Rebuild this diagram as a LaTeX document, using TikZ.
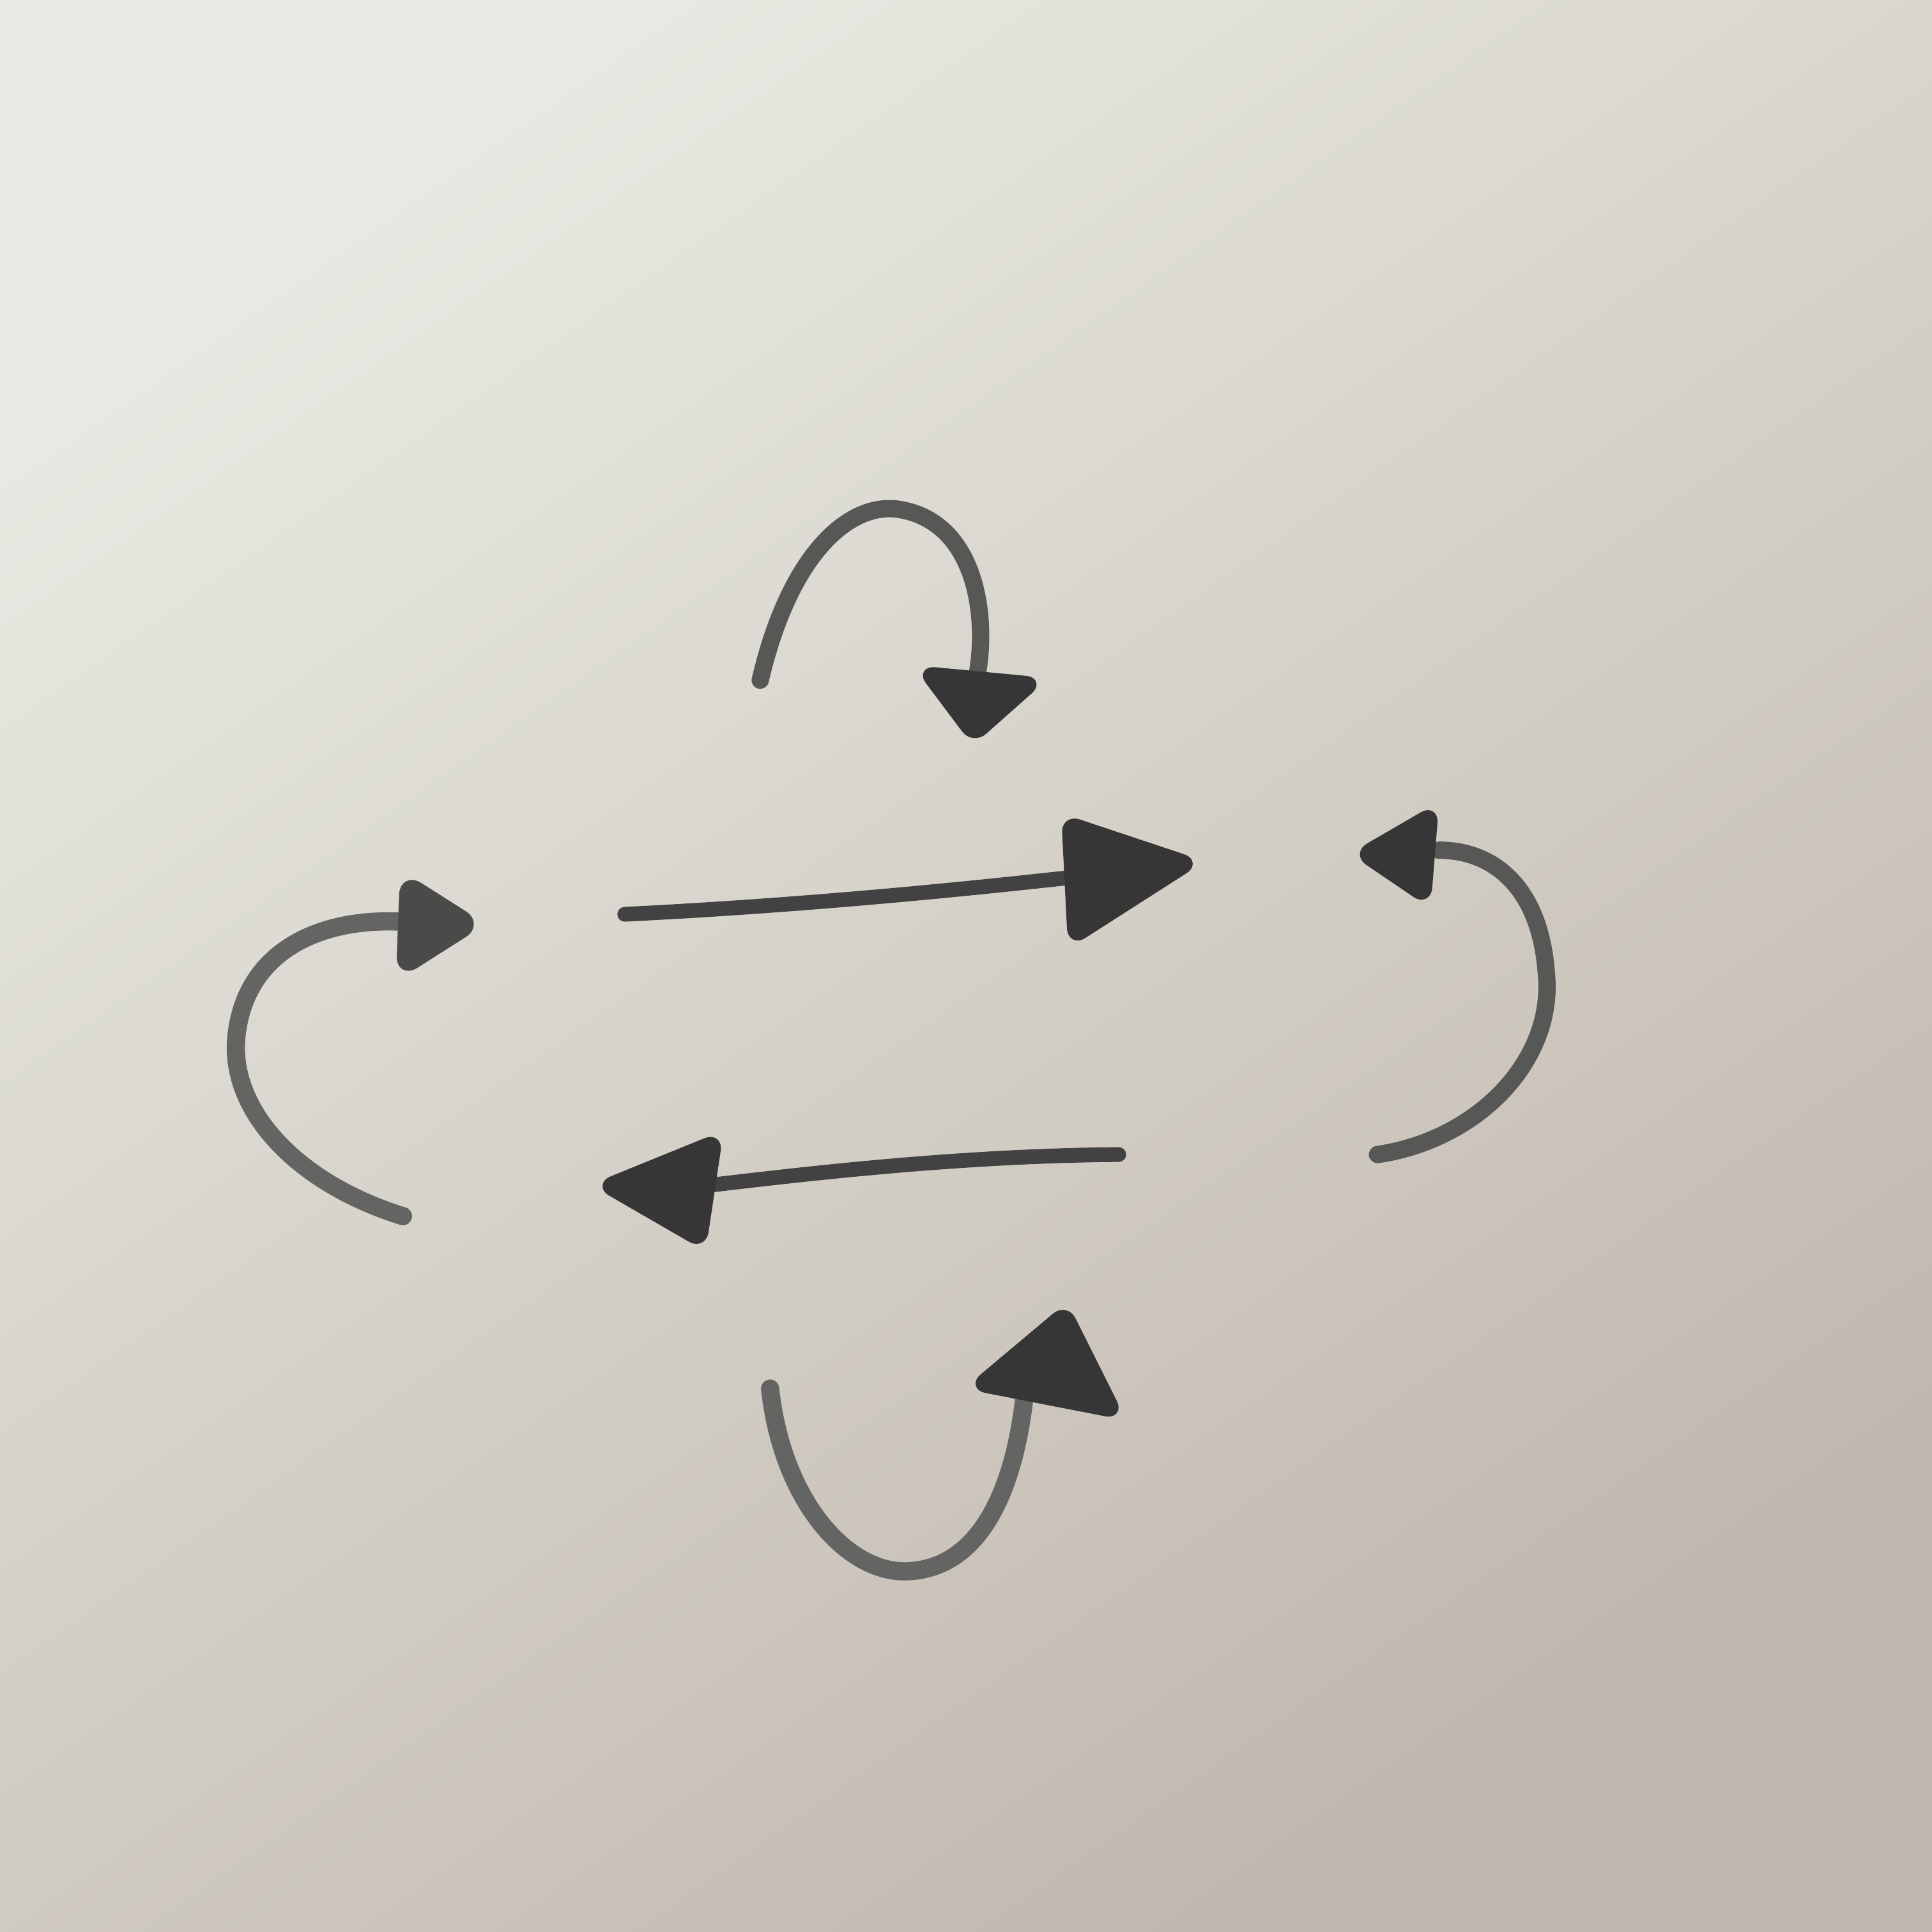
\documentclass[tikz,border=0pt]{standalone}
\usetikzlibrary{calc}
\definecolor{paperA}{HTML}{E8E9E2}
\definecolor{paperM}{HTML}{DEDBD4}
\definecolor{paperB}{HTML}{C0B7AE}
\definecolor{pencilL}{HTML}{646462}
\definecolor{pencilM}{HTML}{575756}
\definecolor{pencilD}{HTML}{424242}
\definecolor{headC}{HTML}{363636}
\definecolor{headL}{HTML}{4A4A49}
\tikzset{
  curvestroke/.style={draw=pencilM, line width=4pt, line cap=round, line join=round},
  lightstroke/.style={draw=pencilL, line width=4.2pt, line cap=round, line join=round},
  straightstroke/.style={draw=pencilD, line width=3.4pt, line cap=round},
  tiphead/.style={fill=headC, draw=headC, line width=2pt, line join=round, rounded corners=3pt},
  lighthead/.style={fill=headL, draw=headL, line width=2pt, line join=round, rounded corners=4pt},
}
\begin{document}
\begin{tikzpicture}[x=0.01cm,y=-0.01cm]
\useasboundingbox (0,0) rectangle (1568,1568);
\shade[shading=axis, top color=paperA, middle color=paperM, bottom color=paperB, shading angle=35] (0,0) rectangle (1568,1568);
% top curved arrow
\coordinate (t0) at (617,552);
\coordinate (t1) at (733,414);
\coordinate (t2) at (793,548);
\path[curvestroke] (t0) .. controls (642,445) and (693,405) .. (t1) .. controls (792,426) and (802,500) .. (t2);
\path[tiphead] (748,544) -- (843,553) -- (790,600) -- cycle;
% straight top arrow
\coordinate (s0) at (507,742);
\coordinate (s1) at (870,712);
\path[straightstroke] (s0) .. controls (650,735) and (780,722) .. (s1);
\path[tiphead] (865,665) -- (970,700) -- (870,764) -- cycle;
% right curved arrow
\coordinate (r0) at (1118,937);
\coordinate (r1) at (1255,790);
\coordinate (r2) at (1168,690);
\path[curvestroke] (r0) .. controls (1200,925) and (1262,860) .. (r1) .. controls (1250,720) and (1212,690) .. (r2);
\path[tiphead] (1164,657) -- (1102,693) -- (1158,731) -- cycle;
% straight bottom arrow
\coordinate (b0) at (908,937);
\coordinate (b1) at (575,962);
\path[straightstroke] (b0) .. controls (780,938) and (660,952) .. (b1);
\path[tiphead] (583,923) -- (487,962) -- (570,1010) -- cycle;
% left curved arrow
\coordinate (l0) at (327,987);
\coordinate (l1) at (192,840);
\coordinate (l2) at (325,748);
\path[lightstroke] (l0) .. controls (240,960) and (185,900) .. (l1) .. controls (200,770) and (262,745) .. (l2);
\path[lighthead] (328,712) -- (388,750) -- (325,790) -- cycle;
% bottom curved arrow
\coordinate (u0) at (625,1127);
\coordinate (u1) at (740,1275);
\coordinate (u2) at (832,1128);
\path[lightstroke] (u0) .. controls (635,1220) and (690,1280) .. (u1) .. controls (800,1270) and (825,1200) .. (u2);
\path[tiphead] (790,1125) -- (865,1062) -- (908,1148) -- cycle;
\end{tikzpicture}
\end{document}
